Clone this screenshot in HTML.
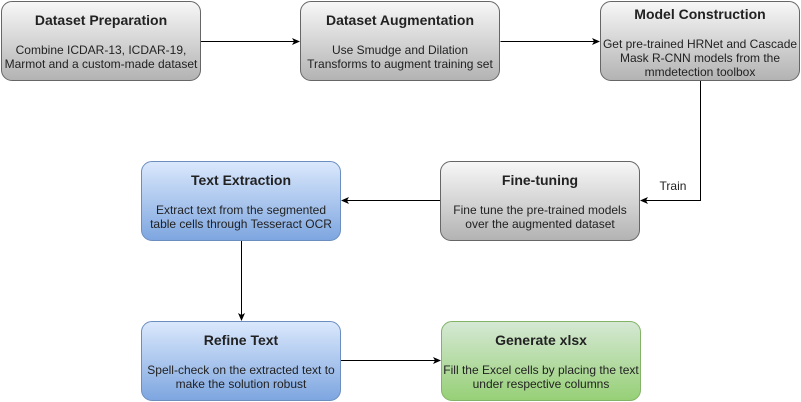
<!DOCTYPE html><html><head><style>
body{margin:0;width:801px;height:402px;background:#fff;position:relative;font-family:"Liberation Sans",Arial,sans-serif;overflow:hidden}
.b{position:absolute;width:198px;height:78px;border-radius:11px;text-align:center;color:#222;box-sizing:content-box}
.g{background:linear-gradient(#f7f7f7,#b3b3b3);border:1px solid #666}
.bl{background:linear-gradient(#dae8fc,#7ea6e0);border:1px solid #6c8ebf}
.gr{background:linear-gradient(#d5e8d4,#97d077);border:1px solid #82b366}
.t{font-weight:bold;font-size:14px;position:absolute;left:0;right:0}
.d{font-size:12px;line-height:14px;position:absolute;left:-5px;right:-5px}
svg{position:absolute;left:0;top:0}
</style></head><body>
<svg width="801" height="402"><defs><marker id="a" markerWidth="8" markerHeight="8" refX="7" refY="4" orient="auto" markerUnits="userSpaceOnUse"><path d="M0,0.5L8,4L0,7.5L2,4z" fill="#000"/></marker></defs>
<g stroke="#000" stroke-width="1" fill="none">
<path d="M200.5,41.5H299" marker-end="url(#a)"/>
<path d="M500.5,41.5H599" marker-end="url(#a)"/>
<path d="M700.5,80V200.5H641" marker-end="url(#a)"/>
<path d="M440,200.5H342" marker-end="url(#a)"/>
<path d="M241.5,240V320" marker-end="url(#a)"/>
<path d="M341,360.5H440" marker-end="url(#a)"/>
</g>
<text x="673" y="190" font-size="12" text-anchor="middle" fill="#222" font-family="Liberation Sans,Arial,sans-serif">Train</text>
</svg>
<div class="b g" style="left:1px;top:1px"><div class="t" style="top:10px">Dataset Preparation</div><div class="d" style="top:41px">Combine ICDAR-13, ICDAR-19,<br>Marmot and a custom-made dataset</div></div>
<div class="b g" style="left:300px;top:1px"><div class="t" style="top:10px">Dataset Augmentation</div><div class="d" style="top:41px">Use Smudge and Dilation<br>Transforms to augment training set</div></div>
<div class="b g" style="left:600px;top:1px"><div class="t" style="top:4px">Model Construction</div><div class="d" style="top:35px">Get pre-trained HRNet and Cascade<br>Mask R-CNN models from the<br>mmdetection toolbox</div></div>
<div class="b g" style="left:440px;top:161px"><div class="t" style="top:10px">Fine-tuning</div><div class="d" style="top:41px">Fine tune the pre-trained models<br>over the augmented dataset</div></div>
<div class="b bl" style="left:141px;top:161px"><div class="t" style="top:10px">Text Extraction</div><div class="d" style="top:41px">Extract text from the segmented<br>table cells through Tesseract OCR</div></div>
<div class="b bl" style="left:141px;top:321px"><div class="t" style="top:10px">Refine Text</div><div class="d" style="top:41px">Spell-check on the extracted text to<br>make the solution robust</div></div>
<div class="b gr" style="left:441px;top:321px"><div class="t" style="top:10px">Generate xlsx</div><div class="d" style="top:41px">Fill the Excel cells by placing the text<br>under respective columns</div></div>
</body></html>
